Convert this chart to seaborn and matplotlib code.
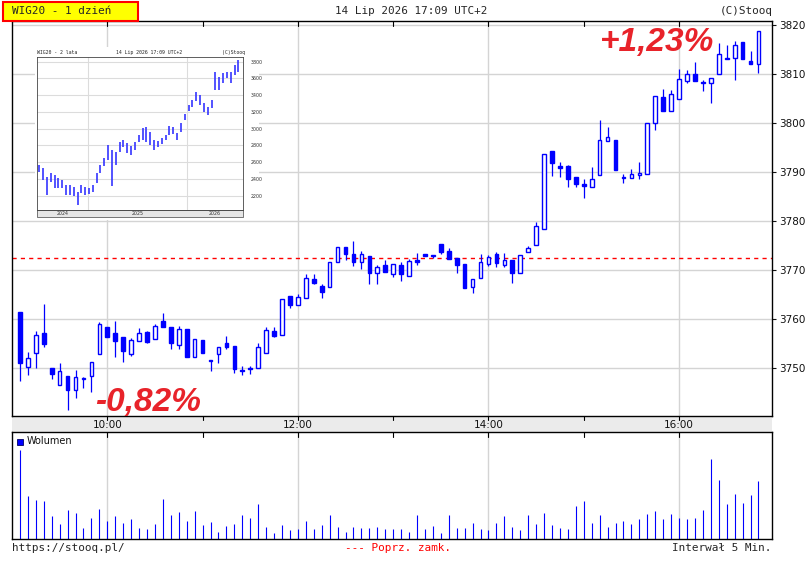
import numpy as np
import pandas as pd
import matplotlib
matplotlib.use('Agg')
import matplotlib.pyplot as plt
import matplotlib.dates as mdates
from matplotlib.patches import Rectangle
import seaborn as sns

sns.set_style('white')
plt.rcParams['font.family'] = ['DejaVu Sans']

W, H = 808, 562
BLUE = '#0000ff'
RED = '#ff0000'

# --- WIG20, 5 min candles 9:05 .. 16:50 ---
opens = [3761.5, 3750.2, 3753.1, 3757.3, 3750.0, 3746.7, 3748.4, 3745.5, 3747.8, 3748.4,
         3752.9, 3758.4, 3757.2, 3756.5, 3752.9, 3755.5, 3757.4, 3755.9, 3759.6, 3758.4,
         3754.7, 3758.0, 3752.4, 3755.7, 3751.8, 3752.9, 3755.2, 3754.6, 3749.6, 3750.0,
         3750.0, 3753.1, 3757.6, 3756.9, 3764.8, 3763.0, 3764.4, 3768.2, 3766.7, 3766.5,
         3771.6, 3774.8, 3773.3, 3771.6, 3772.9, 3769.5, 3771.1, 3769.3, 3771.1, 3768.9,
         3772.0, 3773.4, 3772.9, 3775.4, 3773.9, 3772.6, 3771.2, 3766.6, 3768.5, 3771.3,
         3773.3, 3771.1, 3772.0, 3769.5, 3773.7, 3775.2, 3778.4, 3794.4, 3791.2, 3791.3,
         3789.0, 3787.6, 3786.9, 3789.5, 3796.3, 3796.6, 3789.0, 3788.9, 3789.5, 3789.7,
         3800.0, 3805.3, 3802.4, 3805.0, 3808.6, 3810.1, 3808.2, 3808.1, 3809.9, 3813.1,
         3813.2, 3816.6, 3812.6, 3812.0]
highs = [3761.5, 3753.3, 3757.6, 3763.1, 3750.0, 3751.1, 3748.4, 3749.7, 3748.2, 3751.3,
         3759.5, 3758.4, 3759.7, 3756.5, 3756.1, 3758.2, 3757.6, 3759.1, 3761.2, 3758.4,
         3758.6, 3758.0, 3755.9, 3755.7, 3751.8, 3754.3, 3756.6, 3754.6, 3750.4, 3750.5,
         3755.1, 3758.5, 3758.4, 3764.2, 3764.8, 3765.2, 3769.3, 3769.2, 3767.1, 3771.6,
         3774.8, 3774.8, 3776.0, 3773.9, 3772.9, 3771.0, 3772.0, 3771.2, 3771.7, 3772.3,
         3773.6, 3773.4, 3773.2, 3775.4, 3774.5, 3772.6, 3771.2, 3768.3, 3773.3, 3773.1,
         3773.7, 3773.5, 3772.0, 3773.2, 3775.0, 3779.9, 3793.6, 3794.4, 3792.1, 3791.5,
         3789.0, 3788.6, 3791.1, 3800.7, 3799.1, 3796.6, 3789.6, 3790.7, 3792.1, 3800.0,
         3805.5, 3807.0, 3806.8, 3811.0, 3810.9, 3812.4, 3808.8, 3809.2, 3816.3, 3816.0,
         3816.7, 3816.6, 3814.6, 3818.8]
lows = [3747.5, 3748.7, 3750.1, 3754.4, 3747.9, 3746.7, 3741.6, 3744.0, 3746.1, 3745.2,
        3752.9, 3756.5, 3752.4, 3751.4, 3752.6, 3755.5, 3755.2, 3755.9, 3758.4, 3754.0,
        3754.0, 3752.4, 3752.4, 3753.1, 3749.4, 3751.2, 3754.0, 3749.1, 3748.6, 3748.8,
        3750.0, 3753.1, 3756.3, 3756.9, 3762.4, 3763.0, 3764.4, 3767.1, 3764.4, 3766.5,
        3771.6, 3772.1, 3770.9, 3770.3, 3767.2, 3767.2, 3769.7, 3768.6, 3767.8, 3768.9,
        3771.1, 3772.9, 3772.4, 3773.3, 3772.2, 3769.5, 3766.3, 3765.4, 3768.5, 3770.8,
        3770.7, 3770.6, 3767.5, 3769.5, 3773.7, 3775.2, 3778.4, 3789.3, 3789.1, 3786.9,
        3786.9, 3784.8, 3786.9, 3789.5, 3796.3, 3790.5, 3787.7, 3788.9, 3788.7, 3789.7,
        3798.5, 3802.4, 3802.4, 3805.0, 3808.1, 3808.6, 3806.6, 3804.0, 3809.9, 3813.1,
        3808.7, 3813.1, 3812.0, 3810.3]
closes = [3751.2, 3752.2, 3756.9, 3754.9, 3748.8, 3749.5, 3745.5, 3748.2, 3747.8, 3751.3,
          3759.0, 3756.5, 3755.6, 3753.6, 3755.7, 3757.3, 3755.4, 3758.6, 3758.4, 3755.1,
          3758.1, 3752.4, 3755.9, 3753.1, 3751.6, 3754.3, 3754.4, 3749.9, 3749.5, 3749.9,
          3754.3, 3757.8, 3756.7, 3764.2, 3762.9, 3764.5, 3768.4, 3767.4, 3765.6, 3771.6,
          3774.8, 3773.4, 3771.6, 3773.4, 3769.5, 3770.7, 3769.7, 3771.2, 3769.3, 3771.8,
          3771.6, 3772.9, 3773.2, 3773.7, 3772.2, 3771.1, 3766.3, 3768.3, 3771.6, 3772.7,
          3771.4, 3772.0, 3769.5, 3773.2, 3774.5, 3779.1, 3793.6, 3791.8, 3790.8, 3788.5,
          3787.6, 3787.1, 3788.6, 3796.5, 3797.1, 3790.5, 3788.8, 3789.6, 3789.8, 3800.0,
          3805.5, 3802.4, 3805.9, 3809.0, 3810.0, 3808.6, 3808.2, 3809.2, 3814.1, 3813.2,
          3815.9, 3813.1, 3812.0, 3818.8]
volume = [263, 128, 116, 111, 68, 44, 86, 77, 32, 62, 89, 53, 68, 47, 59, 32, 29, 44, 119, 71,
          80, 53, 83, 41, 50, 20, 38, 44, 71, 62, 104, 35, 17, 41, 26, 29, 53, 29, 41, 71,
          35, 20, 35, 32, 32, 35, 29, 29, 29, 20, 71, 29, 38, 17, 71, 32, 32, 47, 29, 26,
          47, 68, 35, 26, 71, 44, 77, 41, 32, 29, 98, 113, 47, 71, 35, 47, 53, 44, 59, 74,
          83, 59, 74, 62, 59, 62, 86, 236, 173, 104, 134, 107, 131, 170]
prev_close = 3772.6

# minutes after 9:00 for each bar
minutes = np.arange(5, 5 * len(opens) + 1, 5)
hour_ticks = [60, 120, 180, 240, 300, 360, 420]
hour_labels = {60: '10:00', 180: '12:00', 300: '14:00', 420: '16:00'}

# --- 2 year thumbnail (biweekly high / low) ---
thumb_high = [2566, 2526, 2427, 2467, 2447, 2407, 2387, 2327, 2327, 2307, 2248, 2327, 2307, 2288,
              2327, 2467, 2566, 2646, 2805, 2745, 2725, 2845, 2865, 2825, 2793, 2845, 2924, 3004,
              3016, 2964, 2865, 2853, 2885, 2924, 3032, 3016, 2952, 3072, 3175, 3283, 3342, 3442,
              3402, 3302, 3263, 3342, 3681, 3621, 3661, 3681, 3681, 3760, 3822]
thumb_low = [2487, 2387, 2210, 2367, 2288, 2288, 2288, 2208, 2208, 2196, 2089, 2228, 2208, 2220,
             2248, 2347, 2467, 2554, 2626, 2315, 2566, 2725, 2785, 2705, 2686, 2745, 2845, 2865,
             2845, 2805, 2745, 2785, 2817, 2865, 2924, 2936, 2865, 2964, 3103, 3215, 3263, 3334,
             3283, 3203, 3163, 3243, 3462, 3462, 3541, 3601, 3541, 3641, 3681]
thumb_dates = pd.date_range('2024-07-08', periods=len(thumb_high), freq='14D')


def box(l, t, r, b):
    return [l / W, 1 - b / H, (r - l) / W, (b - t) / H]


fig = plt.figure(figsize=(W / 100, H / 100), dpi=100)

# grey band under the time labels
fig.patches.append(Rectangle((12 / W, 1 - 432 / H), 760 / W, 16 / H, transform=fig.transFigure,
                             facecolor='#ebebeb', edgecolor='none', zorder=-1))

# ---------------- main candle panel ----------------
ax = fig.add_axes(box(12, 21, 772, 416))
ax.set_xlim(0, 478.5)
ax.set_ylim(3740.3, 3820.8)
ax.set_facecolor('white')
for y in range(3750, 3821, 10):
    ax.axhline(y, color='#d4d4d4', lw=1, zorder=0)
for h in hour_labels:
    ax.axvline(h, color='#d4d4d4', lw=1, zorder=0)
ax.axhline(prev_close, color=RED, lw=1, ls=(0, (3, 3)), zorder=1)

o = np.array(opens); c = np.array(closes)
up = c >= o
bottom = np.minimum(o, c)
height = np.maximum(np.abs(c - o), 0.2)
ax.vlines(minutes, lows, highs, color=BLUE, lw=0.9, zorder=2)
ax.bar(minutes[up], height[up], bottom=bottom[up], width=2.3, facecolor='white',
       edgecolor=BLUE, linewidth=1.0, zorder=3)
ax.bar(minutes[~up], height[~up], bottom=bottom[~up], width=2.3, facecolor=BLUE,
       edgecolor=BLUE, linewidth=1.0, zorder=3)

ax.set_yticks(range(3750, 3821, 10))
ax.yaxis.tick_right()
ax.tick_params(axis='y', right=True, left=False, labelright=True, labelleft=False,
               length=3, direction='out', labelsize=7.5, pad=2, colors='#111111')
ax.set_xticks([])
for s in ax.spines.values():
    s.set_color('black'); s.set_linewidth(1)
tr = ax.get_xaxis_transform()
for h in hour_ticks:
    ax.plot([h, h], [1, 1 - 5 / 395], transform=tr, color='black', lw=0.8, clip_on=False)
    ax.plot([h, h], [0, -4 / 395], transform=tr, color='black', lw=0.8, clip_on=False)
for h, lab in hour_labels.items():
    ax.text(h, -9.5 / 395, lab, transform=tr, ha='center', va='center', fontsize=7.5,
            color='#111111', zorder=10)

# ---------------- volume panel ----------------
axv = fig.add_axes(box(12, 432, 772, 539))
axv.set_xlim(0, 478.5)
axv.set_ylim(0, 316)
for h in hour_labels:
    axv.axvline(h, color='#d4d4d4', lw=1, zorder=0)
axv.vlines(minutes, 0, volume, color=BLUE, lw=0.8, zorder=2)
axv.set_xticks([]); axv.set_yticks([])
for s in axv.spines.values():
    s.set_color('black'); s.set_linewidth(1)
trv = axv.get_xaxis_transform()
for h in hour_ticks:
    axv.plot([h, h], [1, 1 - 5 / 107], transform=trv, color='black', lw=0.8, clip_on=False)
fig.patches.append(Rectangle((17 / W, 1 - 445 / H), 6 / W, 6 / H, transform=fig.transFigure,
                             facecolor=BLUE, edgecolor='#000066', lw=0.6, zorder=5))
fig.text(27 / W, 1 - 441 / H, 'Wolumen', ha='left', va='center', fontsize=7, color='#111111')

# ---------------- header / footer ----------------
fig.patches.append(Rectangle((3 / W, 1 - 21 / H), 135 / W, 19 / H, transform=fig.transFigure,
                             facecolor='#ffff00', edgecolor=RED, lw=1.5, zorder=5))
mono = ['DejaVu Sans Mono']
fig.text(12 / W, 1 - 11.5 / H, 'WIG20 - 1 dzień', family=mono, fontsize=7.9, ha='left',
         va='center', zorder=6)
fig.text(411 / W, 1 - 11.5 / H, '14 Lip 2026 17:09 UTC+2', family=mono, fontsize=7.9,
         ha='center', va='center')
fig.text(773 / W, 1 - 11.5 / H, '(C)Stooq', family=mono, fontsize=7.9, ha='right', va='center')
fig.text(12 / W, 1 - 548 / H, 'https://stooq.pl/', family=mono, fontsize=7.9, ha='left',
         va='center')
fig.text(398 / W, 1 - 548 / H, '--- Poprz. zamk.', family=mono, fontsize=7.9, ha='center',
         va='center', color=RED)
fig.text(771 / W, 1 - 548 / H, 'Interwał 5 Min.', family=mono, fontsize=7.9, ha='right',
         va='center')

pct = dict(family=['Liberation Sans'], fontsize=24, fontweight='bold', fontstyle='italic',
           color='#e8232a', ha='left', va='baseline', zorder=10)
fig.text(600 / W, 1 - 51 / H, '+1,23%', **pct)
fig.text(95 / W, 1 - 411 / H, '-0,82%', **pct)

# ---------------- 2 year thumbnail ----------------
bg = fig.add_axes(box(35, 47, 259, 220), zorder=5)
bg.set_facecolor('white'); bg.set_xticks([]); bg.set_yticks([])
for s in bg.spines.values():
    s.set_visible(False)

axi = fig.add_axes(box(37.3, 56.7, 243, 210), zorder=6)
x0 = mdates.date2num(pd.Timestamp('2024-07-01'))
x1 = mdates.date2num(pd.Timestamp('2026-07-23'))
axi.set_xlim(x0, x1)
axi.set_ylim(2029, 3860)
for y in range(2200, 3801, 200):
    axi.axhline(y, color='#dcdcdc', lw=0.8, zorder=0)
for d in ['2025-01-01', '2026-01-01']:
    axi.axvline(mdates.date2num(pd.Timestamp(d)), color='#dcdcdc', lw=0.8, zorder=0)
axi.vlines(mdates.date2num(thumb_dates), thumb_low, thumb_high, color='#3535ff', lw=1.2)
axi.set_yticks(range(2200, 3801, 200))
axi.yaxis.tick_right()
axi.tick_params(axis='y', right=False, left=False, labelright=True, labelleft=False,
                labelsize=3.4, pad=2, colors='#333333')
axi.set_xticks([])
for s in axi.spines.values():
    s.set_color('#444444'); s.set_linewidth(0.6)
tri = axi.get_xaxis_transform()
axi.add_patch(Rectangle((0, -7 / 153.3), 1, 7 / 153.3, transform=axi.transAxes,
                        facecolor='#e6e6e6', edgecolor='#444444', lw=0.5, clip_on=False))
for d, lab in [('2024-09-30', '2024'), ('2025-07-02', '2025'), ('2026-04-12', '2026')]:
    axi.text(mdates.date2num(pd.Timestamp(d)), -3.5 / 153.3, lab, transform=tri,
             ha='center', va='center', fontsize=3.4, color='#333333')
fig.text(37 / W, 1 - 52.5 / H, 'WIG20 - 2 lata', family=mono, fontsize=3.5, ha='left',
         va='center', zorder=7)
fig.text(149 / W, 1 - 52.5 / H, '14 Lip 2026 17:09 UTC+2', family=mono, fontsize=3.5,
         ha='center', va='center', zorder=7)
fig.text(245 / W, 1 - 52.5 / H, '(C)Stooq', family=mono, fontsize=3.5, ha='right',
         va='center', zorder=7)

fig.savefig('out.png', dpi=100, facecolor='white')
